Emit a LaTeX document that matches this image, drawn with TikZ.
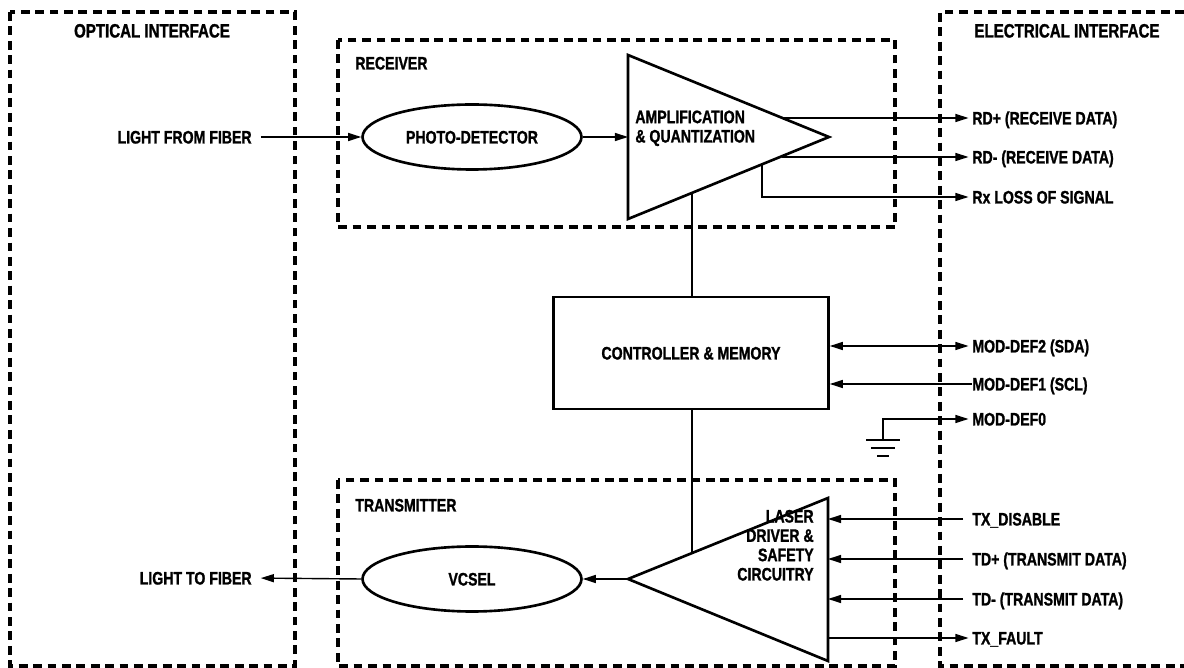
\documentclass[tikz,border=0pt]{standalone}
\usepackage{fontspec}
\setmainfont{Liberation Sans Bold}[FakeStretch=0.78, FakeBold=1.2]
\usetikzlibrary{arrows.meta,shapes.geometric,positioning}

\tikzset{
	lbl/.style={font=\fontsize{10.3}{11}\selectfont, inner sep=0pt, text height=7.4pt, text depth=0pt},
	title/.style={lbl, font=\fontsize{11}{12}\selectfont},
	zone/.style={line width=2pt, dash pattern=on 5pt off 3.2pt, line join=miter},
	block/.style={draw, line width=1.5pt},
	optic/.style={block, ellipse, minimum width=4.38cm, minimum height=1.3cm, lbl},
	wire/.style={line width=0.8pt},
	sig/.style={wire, -{Triangle[length=7.5pt,width=4.6pt]}},
	bisig/.style={wire, {Triangle[length=7.5pt,width=4.6pt]}-{Triangle[length=7.5pt,width=4.6pt]}}
}

\begin{document}
\begin{tikzpicture}[x=0.02cm, y=-0.02cm]

	\useasboundingbox (0,0) rectangle (1184,668);

	% interface zones
	\draw[zone] (10,12) rectangle (295,666);
	\draw[zone] (1184,12) -- (940,12) -- (940,666) -- (1184,666);
	\draw[zone] (338,40) rectangle (895,227);
	\draw[zone] (338,480) rectangle (895,666);
	\node[title] (optT) at (152,31) {OPTICAL INTERFACE};
	\node[title] (elecT) at (1067,31) {ELECTRICAL INTERFACE};
	\node[lbl, anchor=west] (rxT) at (355,63) {RECEIVER};
	\node[lbl, anchor=west] (txT) at (355,505) {TRANSMITTER};

	% blocks
	\node[optic] (pd) at (472,137) {PHOTO-DETECTOR};
	\node[optic] (vcsel) at (472,579) {VCSEL};
	\node[block, lbl, minimum width=5.5cm, minimum height=2.24cm] (ctrl) at (691,353) {CONTROLLER \& MEMORY};

	\draw[block] (628,55) coordinate (rxA) -- (829,137) coordinate (rxC) -- (628,219) coordinate (rxB) -- cycle;
	\node[lbl, anchor=west, align=left] (amp) at (635,136) {AMPLIFICATION\\\& QUANTIZATION};
	\draw[block] (828,498) coordinate (txA) -- (628,579) coordinate (txC) -- (828,661) coordinate (txB) -- cycle;
	\node[lbl, anchor=east, align=right] (drv) at (814,574) {LASER\\DRIVER \&\\SAFETY\\CIRCUITRY};

	% points on the triangles
	\coordinate (rxin) at (628,137);
	\coordinate (rxop) at (782,118);
	\coordinate (rxom) at (782,157);
	\coordinate (rxlos) at (762,164);
	\coordinate (rxbot) at (692,193);
	\coordinate (txtop) at (692,553);
	\coordinate (txR) at (828,579);

	% signal labels
	\node[lbl, anchor=east] (lff) at (252,137) {LIGHT FROM FIBER};
	\node[lbl, anchor=east] (ltf) at (252,578) {LIGHT TO FIBER};
	\node[lbl, anchor=west] (rdp) at (972,118) {RD+ (RECEIVE DATA)};
	\node[lbl, anchor=west] (rdm) at (972,157) {RD- (RECEIVE DATA)};
	\node[lbl, anchor=west] (los) at (972,197) {Rx LOSS OF SIGNAL};
	\node[lbl, anchor=west] (sda) at (972,346) {MOD-DEF2 (SDA)};
	\node[lbl, anchor=west] (scl) at (972,384) {MOD-DEF1 (SCL)};
	\node[lbl, anchor=west] (def0) at (972,419) {MOD-DEF0};
	\node[lbl, anchor=west] (dis) at (972,519) {TX\_DISABLE};
	\node[lbl, anchor=west] (tdp) at (972,559) {TD+ (TRANSMIT DATA)};
	\node[lbl, anchor=west] (tdm) at (972,599) {TD- (TRANSMIT DATA)};
	\node[lbl, anchor=west] (flt) at (972,638) {TX\_FAULT};

	% receive path
	\draw[sig, shorten <=5pt] (lff.east) -- (pd.west);
	\draw[sig] (pd.east) -- (rxin);
	\draw[sig, shorten >=2pt] (rxop) -- (rdp.west);
	\draw[sig, shorten >=2pt] (rxom) -- (rdm.west);
	\draw[sig, shorten >=2pt] (rxlos) |- (los.west);
	\draw[wire] (rxbot) -- (ctrl.north -| rxbot);

	% management interface
	\draw[bisig, shorten >=2pt] (ctrl.east |- sda) -- (sda.west);
	\draw[sig] (scl.west) -- (ctrl.east |- scl);
	\coordinate (gnd) at (883,440);
	\draw[sig, shorten >=2pt] (gnd) |- (def0.west);
	\draw[wire, line width=1.3pt] (866,440) -- (900,440);
	\draw[wire, line width=1.3pt] (871,448) -- (895,448);
	\draw[wire, line width=1.3pt] (877,456) -- (889,456);

	% transmit path
	\draw[wire] (ctrl.south -| txtop) -- (txtop);
	\draw[sig, shorten <=5pt] (dis.west) -- (dis.west -| txR);
	\draw[sig, shorten <=5pt] (tdp.west) -- (tdp.west -| txR);
	\draw[sig, shorten <=5pt] (tdm.west) -- (tdm.west -| txR);
	\draw[sig, shorten >=2pt] (flt.west -| txR) -- (flt.west);
	\draw[sig] (txC) -- (vcsel.east);
	\draw[sig, shorten >=5pt] (vcsel.west) -- (ltf.east);

\end{tikzpicture}
\end{document}
